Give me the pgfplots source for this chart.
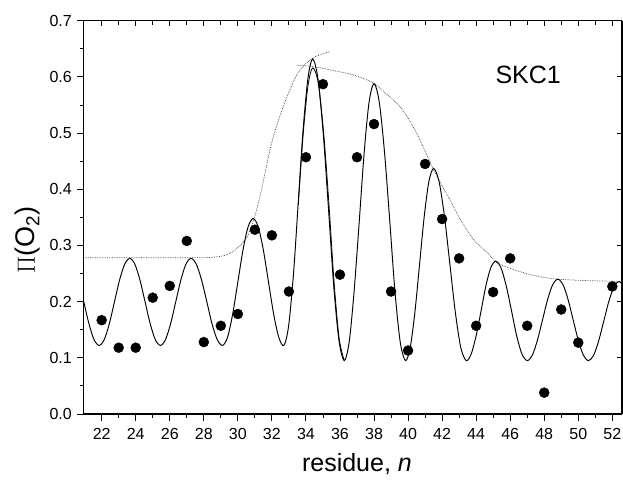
\documentclass[border=0pt]{standalone}
\usepackage{fontspec}
\setmainfont{Liberation Sans}
\usepackage{pgfplots}
\pgfplotsset{compat=1.18}

\pgfplotsset{
  skcframe/.style={
    scale only axis, width=538.7pt, height=393.3pt,
    at={(83.3pt,65pt)}, anchor=south west,
    xmin=20.92, xmax=52.57, ymin=0, ymax=0.7,
    xtick={22,24,...,52},
    ytick={0,0.1,0.2,0.3,0.4,0.5,0.6,0.7},
    axis line style={line width=1.1pt},
    major tick style={line width=0.9pt, black},
    minor tick style={line width=0.9pt, black},
  },
}

\begin{document}
\begin{tikzpicture}[x=1pt,y=1pt]
\useasboundingbox (0,0) rectangle (623,479);

% mirrored ticks, pointing inwards
\begin{axis}[skcframe,
    axis x line*=top, axis y line*=right,
    tick align=inside,
    minor x tick num=1,
    major tick length=5pt, minor tick length=4pt,
    xticklabels={}, yticklabels={},
]
\end{axis}

\begin{axis}[skcframe,
    axis x line*=bottom, axis y line*=left,
    tick align=outside,
    minor x tick num=1, minor y tick num=1,
    major tick length=6.5pt, minor tick length=3.5pt,
    /pgf/number format/assume math mode=true,
    ticklabel style={font=\fontsize{16}{19}\selectfont},
    xticklabel style={yshift=-4.5pt},
    yticklabel style={xshift=-1.5pt, /pgf/number format/.cd, fixed, fixed zerofill, precision=1},
    xlabel={residue, \textit{n}},
    xlabel style={at={(axis description cs:0.508,-0.145)}, anchor=base,
                  font=\fontsize{25}{30}\selectfont},
    ylabel={$\Pi$(O\textsubscript{2})},
    ylabel style={at={(axis description cs:-0.103,0.442)}, anchor=center,
                  font=\fontsize{27}{32}\selectfont},
]
% envelope, rising branch
\addplot[black!75, densely dotted, line width=0.7pt, smooth] coordinates {
 (20.92,0.278) (24,0.278) (27.5,0.278) (28.5,0.279) (29.2,0.282)
 (29.7,0.289) (30.2,0.302) (30.6,0.318) (31.1,0.363) (31.5,0.415)
 (31.88,0.470) (32.2,0.505) (32.47,0.530) (32.8,0.558) (33.06,0.577)
 (33.45,0.603) (33.84,0.619) (34.43,0.634) (35.0,0.641) (35.41,0.645)
};
% envelope, falling branch
\addplot[black!75, densely dotted, line width=0.7pt, smooth] coordinates {
 (33.45,0.621) (34.5,0.618) (35.5,0.612) (36.6,0.605) (37.3,0.598)
 (37.96,0.589) (38.8,0.568) (39.53,0.547) (40.0,0.527) (40.5,0.500)
 (41.0,0.468) (41.5,0.435) (42.0,0.406) (42.47,0.381) (43.0,0.350)
 (43.45,0.328) (44.0,0.305) (44.63,0.288) (45.2,0.270) (46.0,0.259)
 (47.2,0.248) (48.0,0.243) (48.8,0.240) (50.0,0.238) (51.0,0.237)
 (52.57,0.236)
};
% periodic fit
\addplot[black, line width=0.95pt, smooth] coordinates {
 (20.65,0.2383) (20.95,0.1995) (21.25,0.1608) (21.55,0.1324) (21.85,0.122)
 (22.15,0.1324) (22.45,0.1608) (22.75,0.1995) (23.05,0.2383) (23.35,0.2666) (23.65,0.277)
 (23.95,0.2666) (24.25,0.2383) (24.55,0.1995) (24.85,0.1608) (25.15,0.1324) (25.45,0.122)
 (25.75,0.1324) (26.05,0.1608) (26.35,0.1995) (26.65,0.2383) (26.95,0.2666) (27.25,0.277)
 (27.56,0.2666) (27.87,0.2383) (28.18,0.1995) (28.48,0.1608) (28.79,0.1324) (29.1,0.122)
 (29.4,0.1371) (29.7,0.1785) (30.0,0.235) (30.3,0.2915) (30.6,0.3329) (30.9,0.348)
 (31.2,0.3329) (31.5,0.2915) (31.8,0.235) (32.1,0.1785) (32.4,0.1371) (32.7,0.122)
 (32.98,0.1562) (33.27,0.2495) (33.55,0.377) (33.83,0.5045) (34.12,0.5978) (34.4,0.632)
 (34.71,0.596) (35.02,0.4978) (35.33,0.3635) (35.63,0.2293) (35.94,0.131) (36.25,0.095)
 (36.54,0.128) (36.83,0.2183) (37.13,0.3415) (37.42,0.4648) (37.71,0.555) (38.0,0.588)
 (38.31,0.555) (38.62,0.4648) (38.93,0.3415) (39.23,0.2183) (39.54,0.128) (39.85,0.095)
 (40.125,0.118) (40.4,0.1805) (40.675,0.266) (40.95,0.3515) (41.225,0.414) (41.5,0.437)
 (41.82,0.414) (42.14,0.3515) (42.46,0.266) (42.78,0.1805) (43.1,0.118) (43.42,0.095)
 (43.71,0.1069) (44.0,0.1393) (44.29,0.1835) (44.57,0.2278) (44.86,0.2601) (45.15,0.272)
 (45.46,0.2601) (45.77,0.2278) (46.08,0.1835) (46.38,0.1393) (46.69,0.1069) (47.0,0.095)
 (47.3,0.1047) (47.6,0.1313) (47.9,0.1675) (48.2,0.2038) (48.5,0.2303) (48.8,0.240)
 (49.1,0.2303) (49.4,0.2038) (49.7,0.1675) (50.0,0.1313) (50.3,0.1047) (50.6,0.095)
 (50.9,0.1044) (51.2,0.1303) (51.5,0.1655) (51.8,0.2008) (52.1,0.2266) (52.4,0.236)
 (52.7,0.2266)
};
% second, slightly lower trace at the main peak
\addplot[black, line width=0.8pt, smooth] coordinates {
 (33.55,0.372) (33.83,0.495) (34.12,0.584) (34.4,0.616) (34.73,0.588)
 (35.05,0.497) (35.36,0.370) (35.65,0.236) (35.95,0.135) (36.25,0.095)
};
% measured data
\addplot[only marks, mark=*, mark size=5pt, black] coordinates {
 (22,0.167) (23,0.118) (24,0.118) (25,0.207) (26,0.228) (27,0.308)
 (28,0.128) (29,0.157) (30,0.178) (31,0.328) (32,0.318) (33,0.218)
 (34,0.457) (35,0.587) (36,0.248) (37,0.457) (38,0.516) (39,0.218)
 (40,0.113) (41,0.445) (42,0.347) (43,0.277) (44,0.157) (45,0.217)
 (46,0.277) (47,0.157) (48,0.038) (49,0.186) (50,0.127) (52,0.227)
};
\node[font=\fontsize{25}{30}\selectfont] at (axis cs:47.06,0.604) {SKC1};
\end{axis}
\end{tikzpicture}
\end{document}
